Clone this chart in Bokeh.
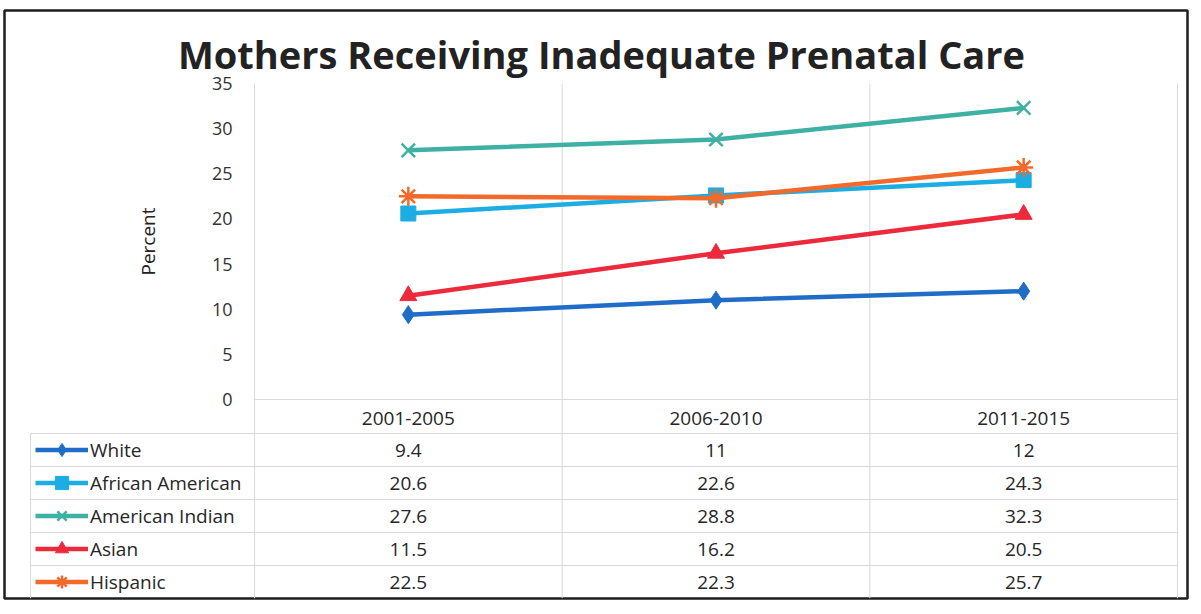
import math
from bokeh.plotting import figure
from bokeh.models import (Range1d, FixedTicker, LinearAxis, Label, Legend,
                          LegendItem, ColumnDataSource)
from bokeh.core.properties import value
from bokeh.embed import file_html
from bokeh.resources import INLINE

# ---------------- data ----------------
categories = ["2001-2005", "2006-2010", "2011-2015"]
series_names = ["White", "African American", "American Indian", "Asian", "Hispanic"]
white = [9.4, 11, 12]
african_american = [20.6, 22.6, 24.3]
american_indian = [27.6, 28.8, 32.3]
asian = [11.5, 16.2, 20.5]
hispanic = [22.5, 22.3, 25.7]
y_ticks = [0, 5, 10, 15, 20, 25, 30, 35]
title_text = "Mothers Receiving Inadequate Prenatal Care"
y_label = "Percent"

series_values = [white, african_american, american_indian, asian, hispanic]
colors = ["#1F6DC6", "#1BADE3", "#3FB0A4", "#EC2A3B", "#F26A2B"]
markers = ["diamond", "square", "x", "triangle", "asterisk"]
marker_sizes = [18, 15, 19, 17, 19]

FONT = "Open Sans"

# ---------------- layout (figure-local pixels) ----------------
W, H = 1189, 600
BL, BT, BR, BB = 4, 10, 2, 2
X0_PX, X3_PX = 254, 1177      # category block 0 .. 3 boundaries
Y0_PX, Y35_PX = 399, 83       # value 0 and value 35
PXX = (X3_PX - X0_PX) / 3.0
PXY = (Y0_PX - Y35_PX) / 35.0


def dx(px):
    return (px - X0_PX) / PXX


def dy(py):
    return (Y0_PX - py) / PXY


x_start, x_end = dx(BL), dx(W - BR)
y_end, y_start = dy(BT), dy(H - BB)

p = figure(width=W, height=H, output_backend="svg", toolbar_location=None,
           x_range=Range1d(x_start, x_end), y_range=Range1d(y_start, y_end),
           x_axis_location=None, y_axis_location=None,
           min_border_left=BL, min_border_right=BR, min_border_top=BT, min_border_bottom=BB)
p.background_fill_color = "white"
p.border_fill_color = "white"
p.outline_line_color = "#1e1e1e"
p.outline_line_width = 2.5
p.xgrid.visible = False
p.ygrid.visible = False

# ---------------- grid / table lines ----------------
GRID = "#D9D9D9"
ncat = len(categories)
bounds_x = list(range(ncat + 1))
p.segment(x0=bounds_x, y0=[max(y_ticks)] * len(bounds_x), x1=bounds_x,
          y1=[y_start] * len(bounds_x), line_color=GRID, line_width=1)

ROW_H = 33
HEADER_BOTTOM = 433
row_bounds = [HEADER_BOTTOM + i * ROW_H for i in range(len(series_names))]
row_centers = [HEADER_BOTTOM + ROW_H / 2 + i * ROW_H for i in range(len(series_names))]
LEFT_COL = 30
p.segment(x0=[0], y0=[0], x1=[ncat], y1=[0], line_color=GRID, line_width=1)
p.segment(x0=[dx(LEFT_COL)] * len(row_bounds), y0=[dy(r) for r in row_bounds],
          x1=[ncat] * len(row_bounds), y1=[dy(r) for r in row_bounds],
          line_color=GRID, line_width=1)
p.segment(x0=[dx(LEFT_COL)], y0=[dy(HEADER_BOTTOM)], x1=[dx(LEFT_COL)], y1=[y_start],
          line_color=GRID, line_width=1)

# ---------------- series ----------------
xc = [i + 0.5 for i in range(ncat)]
legend_items = []
for name, vals, col, mk, ms in zip(series_names, series_values, colors, markers, marker_sizes):
    src = ColumnDataSource(dict(x=xc, y=vals))
    lr = p.line("x", "y", source=src, line_color=col, line_width=4.5)
    if mk in ("x", "asterisk"):
        sr = p.scatter("x", "y", source=src, marker=mk, size=ms, line_color=col,
                       line_width=2.5, fill_color=col)
    else:
        sr = p.scatter("x", "y", source=src, marker=mk, size=ms, line_color=col,
                       fill_color=col)
    legend_items.append(LegendItem(label=name, renderers=[lr, sr]))

# ---------------- table values ----------------
tx, ty, tt = [], [], []
for r, vals in enumerate(series_values):
    for c, v in enumerate(vals):
        tx.append(xc[c])
        ty.append(dy(row_centers[r]))
        tt.append(f"{v:g}")
p.text(x="x", y="y", text="t", source=ColumnDataSource(dict(x=tx, y=ty, t=tt)),
       text_font=value(FONT), text_font_size="19px", text_color="#262626",
       text_align="center", text_baseline="middle")

# ---------------- axes ----------------
yaxis = LinearAxis(fixed_location=dx(238), ticker=FixedTicker(ticks=y_ticks))
yaxis.axis_line_color = None
yaxis.major_tick_line_color = None
yaxis.minor_tick_line_color = None
yaxis.major_tick_out = 0
yaxis.major_tick_in = 0
yaxis.major_label_standoff = 6
yaxis.major_label_text_font = FONT
yaxis.major_label_text_font_size = "18px"
yaxis.major_label_text_color = "#333333"
p.add_layout(yaxis, "left")

xaxis = LinearAxis(fixed_location=0, ticker=FixedTicker(ticks=xc),
                   major_label_overrides={xc[i]: categories[i] for i in range(ncat)})
xaxis.axis_line_color = None
xaxis.major_tick_line_color = None
xaxis.minor_tick_line_color = None
xaxis.major_tick_out = 0
xaxis.major_tick_in = 0
xaxis.major_label_standoff = 12
xaxis.major_label_text_font = FONT
xaxis.major_label_text_font_size = "19px"
xaxis.major_label_text_color = "#262626"
p.add_layout(xaxis, "below")

# ---------------- labels ----------------
p.add_layout(Label(x=dx(601), y=dy(53), text=title_text, text_font=FONT,
                   text_font_style="bold", text_font_size="38px", text_color="#222222",
                   text_align="center", text_baseline="middle"))
p.add_layout(Label(x=dx(147), y=(min(y_ticks) + max(y_ticks)) / 2, text=y_label,
                   angle=math.pi / 2, text_font=FONT, text_font_size="19px",
                   text_color="#222222", text_align="center", text_baseline="middle"))

# ---------------- legend (left column of table) ----------------
legend = Legend(items=legend_items,
                location=(35 - BL, (H - BB) - (row_centers[-1] + ROW_H / 2)),
                orientation="vertical", padding=0, margin=0, spacing=0,
                glyph_height=ROW_H, glyph_width=53, label_height=ROW_H,
                label_standoff=2, label_text_font=FONT, label_text_font_size="19px",
                label_text_color="#262626", border_line_color=None,
                background_fill_alpha=0)
p.add_layout(legend)

open("out.html", "w").write(file_html(p, INLINE))
